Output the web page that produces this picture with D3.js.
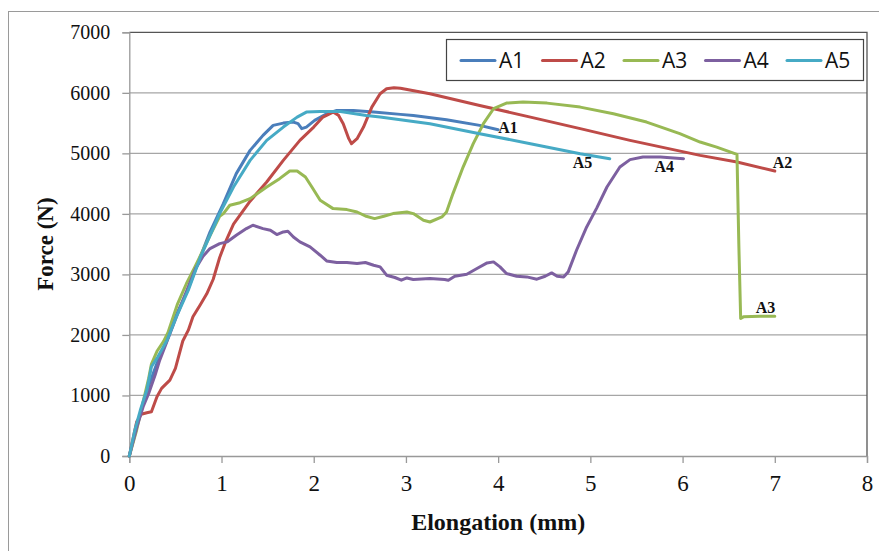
<!DOCTYPE html>
<html><head><meta charset="utf-8">
<script src="https://cdn.jsdelivr.net/npm/d3@7"></script>
<style>body{margin:0;background:#fff}svg{display:block}</style>
</head><body>
<svg id="c" width="879" height="551"></svg>
<script>
const seriesNames = ["A1","A2","A3","A4","A5"];
const seriesColors = ["#4A7EBB","#BE4B48","#98B954","#7D60A0","#46AAC5"];
const xTicks = [0,1,2,3,4,5,6,7,8];
const yTicks = [0,1000,2000,3000,4000,5000,6000,7000];

const A1 = [[0,0],[0.08,484],[0.15,870],[0.22,1200],[0.30,1530],[0.41,1914],[0.51,2327],[0.64,2767],[0.77,3290],[0.875,3700],[1.02,4169],[1.16,4665],[1.31,5049],[1.45,5297],[1.56,5462],[1.67,5500],[1.78,5517],[1.83,5490],[1.87,5408],[1.92,5434],[2.01,5545],[2.14,5655],[2.25,5710],[2.43,5710],[2.65,5682],[2.94,5644],[3.08,5627],[3.44,5556],[3.80,5462],[4.0,5391]];
const A2 = [[0,0],[0.08,566],[0.13,690],[0.19,715],[0.24,731],[0.30,979],[0.35,1117],[0.44,1254],[0.50,1447],[0.58,1900],[0.64,2079],[0.69,2299],[0.77,2500],[0.84,2680],[0.91,2920],[0.98,3280],[1.05,3560],[1.13,3830],[1.31,4210],[1.49,4527],[1.67,4884],[1.85,5214],[2.0,5434],[2.1,5599],[2.21,5682],[2.27,5627],[2.32,5490],[2.38,5243],[2.41,5160],[2.47,5243],[2.54,5434],[2.63,5764],[2.72,5985],[2.79,6067],[2.87,6083],[2.94,6075],[3.26,5985],[3.80,5792],[4.35,5599],[4.89,5408],[5.43,5214],[6.19,4967],[6.59,4856],[7.0,4708]];
const A3 = [[0,0],[0.08,429],[0.15,896],[0.21,1282],[0.24,1520],[0.30,1730],[0.37,1890],[0.42,2040],[0.52,2500],[0.62,2850],[0.71,3120],[0.80,3400],[0.875,3640],[0.98,3960],[1.02,4005],[1.09,4142],[1.2,4185],[1.31,4252],[1.49,4444],[1.63,4582],[1.74,4708],[1.82,4708],[1.91,4609],[1.98,4444],[2.07,4224],[2.21,4087],[2.36,4071],[2.47,4031],[2.57,3960],[2.66,3922],[2.76,3960],[2.86,4005],[3.01,4031],[3.08,4005],[3.19,3894],[3.26,3866],[3.39,3949],[3.44,4031],[3.51,4335],[3.62,4774],[3.73,5160],[3.84,5490],[3.95,5737],[4.09,5830],[4.27,5847],[4.53,5830],[4.89,5764],[5.25,5655],[5.61,5517],[5.97,5325],[6.19,5187],[6.37,5104],[6.59,4983],[6.61,3500],[6.63,2272],[6.66,2299],[6.84,2310],[7.0,2310]];
const A4 = [[0,0],[0.08,470],[0.15,813],[0.21,1034],[0.28,1337],[0.33,1584],[0.40,1860],[0.51,2299],[0.64,2794],[0.72,3100],[0.80,3300],[0.875,3427],[0.98,3509],[1.06,3537],[1.16,3647],[1.27,3757],[1.34,3812],[1.45,3757],[1.53,3729],[1.60,3658],[1.67,3702],[1.72,3713],[1.78,3619],[1.85,3537],[1.96,3454],[2.07,3317],[2.14,3223],[2.25,3196],[2.36,3196],[2.47,3179],[2.56,3196],[2.65,3152],[2.72,3124],[2.79,2987],[2.88,2949],[2.95,2904],[3.01,2942],[3.08,2916],[3.26,2932],[3.42,2916],[3.46,2904],[3.53,2970],[3.66,3003],[3.77,3097],[3.88,3190],[3.95,3207],[4.02,3124],[4.09,3015],[4.20,2970],[4.31,2959],[4.42,2921],[4.51,2970],[4.58,3025],[4.64,2970],[4.71,2959],[4.76,3042],[4.85,3399],[4.96,3784],[5.07,4100],[5.18,4444],[5.32,4774],[5.43,4896],[5.57,4939],[5.76,4939],[6.01,4912]];
const A5 = [[0,0],[0.06,429],[0.12,759],[0.19,1089],[0.24,1474],[0.31,1639],[0.41,1914],[0.51,2299],[0.64,2739],[0.77,3280],[0.84,3520],[0.98,4005],[1.13,4444],[1.31,4884],[1.49,5214],[1.67,5434],[1.82,5599],[1.92,5682],[2.07,5693],[2.29,5693],[2.57,5627],[2.72,5600],[2.94,5556],[3.26,5490],[3.80,5325],[4.35,5160],[4.89,4995],[5.21,4912]];
const seriesData = [A1,A2,A3,A4,A5];

const svg = d3.select("#c");
const L = 129.3, R = 867, T = 32.3, B = 456;
const x = d3.scaleLinear().domain([0,8]).range([L,R]);
const y = d3.scaleLinear().domain([0,7000]).range([B,T]);
const serif = "Liberation Serif, Times New Roman, serif";

// outer frame
svg.append("rect").attr("x",8.5).attr("y",11.5).attr("width",900).attr("height",600)
  .attr("fill","none").attr("stroke","#9a9a9a").attr("stroke-width",1);

// gridlines
svg.append("g").selectAll("line").data(yTicks.filter(d=>d>0 && d<7000)).join("line")
  .attr("x1",L).attr("x2",R).attr("y1",d=>y(d)).attr("y2",d=>y(d))
  .attr("stroke","#a6a6a6").attr("stroke-width",1.3);

// plot border top/right
svg.append("path").attr("d",`M${L},${T}H${R}V${B}`).attr("fill","none")
  .attr("stroke","#555").attr("stroke-width",1.3);

// axes
const yAxis = d3.axisLeft(y).tickValues(yTicks).tickSize(7).tickPadding(12).tickFormat(d3.format("d"));
const gy = svg.append("g").attr("transform",`translate(${L},0)`).call(yAxis);
gy.select(".domain").attr("stroke","#999").attr("stroke-width",1.3);
gy.selectAll(".tick line").attr("stroke","#999").attr("stroke-width",1.3);
gy.selectAll(".tick text").attr("font-family",serif).attr("font-size",20).attr("fill","#111");

const xAxis = d3.axisBottom(x).tickValues(xTicks).tickSize(7).tickPadding(12).tickFormat(d3.format("d"));
const gx = svg.append("g").attr("transform",`translate(0,${B})`).call(xAxis);
gx.select(".domain").attr("stroke","#999").attr("stroke-width",1.3);
gx.selectAll(".tick line").attr("stroke","#999").attr("stroke-width",1.3);
gx.selectAll(".tick text").attr("font-family",serif).attr("font-size",23).attr("fill","#111");

// lines
const line = d3.line().x(d=>x(d[0])).y(d=>y(d[1])).curve(d3.curveLinear);
svg.append("g").selectAll("path").data(seriesData).join("path")
  .attr("d",line).attr("fill","none")
  .attr("stroke",(d,i)=>seriesColors[i]).attr("stroke-width",3)
  .attr("stroke-linejoin","round").attr("stroke-linecap","round");

// end labels (offsets in px from last point)
const labelOffsets = [[0,-2],[-2,-9],[-19,-9],[-29,8],[-37,4]];
svg.append("g").selectAll("text").data(seriesData).join("text")
  .attr("x",(d,i)=>x(d[d.length-1][0])+labelOffsets[i][0])
  .attr("y",(d,i)=>y(d[d.length-1][1])+labelOffsets[i][1])
  .attr("dy","0.35em").attr("font-family",serif)
  .attr("font-weight","bold").attr("font-size",16).attr("fill","#111")
  .text((d,i)=>seriesNames[i]);

// axis titles
svg.append("text").attr("x",(L+R)/2).attr("y",530).attr("text-anchor","middle")
  .attr("font-family",serif).attr("font-weight","bold")
  .attr("font-size",24).attr("fill","#111").text("Elongation (mm)");
svg.append("text").attr("transform",`translate(53,${(T+B)/2}) rotate(-90)`).attr("text-anchor","middle")
  .attr("font-family",serif).attr("font-weight","bold")
  .attr("font-size",23).attr("fill","#111").text("Force (N)");

// legend
const lg = svg.append("g");
lg.append("rect").attr("x",446.5).attr("y",39.5).attr("width",417).attr("height",41)
  .attr("fill","#fff").attr("stroke","#444").attr("stroke-width",1.2);
const items = lg.selectAll("g").data(seriesNames).join("g")
  .attr("transform",(d,i)=>`translate(${461+i*81.5},60.5)`);
items.append("line").attr("x1",0).attr("x2",34).attr("y1",0).attr("y2",0)
  .attr("stroke",(d,i)=>seriesColors[i]).attr("stroke-width",3).attr("stroke-linecap","round");
items.append("text").attr("x",38).attr("y",0).attr("dy","0.35em")
  .attr("font-family","Open Sans, Liberation Sans, sans-serif").attr("font-size",21)
  .attr("fill","#111").text(d=>d);
</script>
</body></html>
